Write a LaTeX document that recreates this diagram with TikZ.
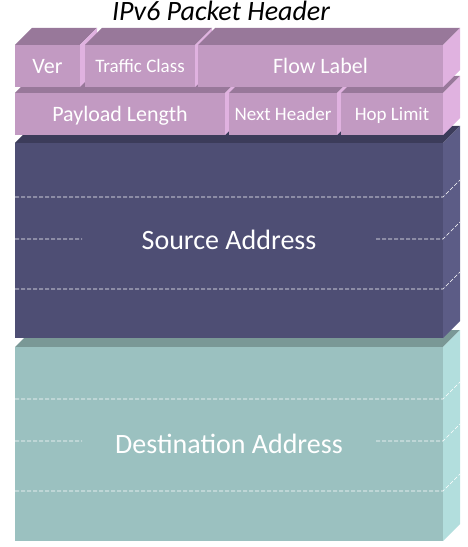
\documentclass[tikz,border=0pt]{standalone}
\usepackage{fontspec}
\setmainfont{Carlito}
\usepackage{tikz}

\definecolor{hdrfront}{HTML}{C29AC2}
\definecolor{hdrtop}{HTML}{98789A}
\definecolor{hdrside}{HTML}{E0B2E0}
\definecolor{srcfront}{HTML}{4E4E74}
\definecolor{srctop}{HTML}{3C3C5A}
\definecolor{srcside}{HTML}{5C5C86}
\definecolor{dstfront}{HTML}{9BC1C0}
\definecolor{dsttop}{HTML}{7A9896}
\definecolor{dstside}{HTML}{B2DEDD}

% 3d block: name, x1, y1, x2, y2, colour prefix, font size, text
\newcommand{\hdrbox}[8]{%
  \fill[#6top] (#2,#3) -- (#2+17,#3-17) -- (#4+17,#3-17) -- (#4,#3) -- cycle;
  \fill[#6side] (#4,#3) -- (#4+17,#3-17) -- (#4+17,#5-17) -- (#4,#5) -- cycle;
  \fill[#6front] (#2,#3) rectangle (#4,#5);
  \node[fieldtext, font=\fontsize{#7bp}{#7bp}\selectfont] (#1) at ({(#2+#4)/2},{(#3+#5)/2+0.322*#7}) {#8};
}

\begin{document}
\begin{tikzpicture}[
  x=1bp, y=-1bp,
  fieldtext/.style={text=white, inner sep=0pt, anchor=base},
  addrline/.style={white, line width=0.6bp, dash pattern=on 4bp off 2bp},
]
\useasboundingbox (0,0) rectangle (468,547);

% bottom to top, so upper blocks cover the ones below
\hdrbox{dst}{15}{347}{443}{541}{dst}{28}{Destination Address}
\foreach \yy in {399,491}
  \draw[addrline] (15,\yy) -- (443,\yy) -- ++(17,-17);
\draw[addrline] (15,441) -- (82,441) (376,441) -- (443,441) -- ++(17,-17);

\hdrbox{src}{15}{143}{443}{338}{src}{28}{Source Address}
\foreach \yy in {197,289}
  \draw[addrline] (15,\yy) -- (443,\yy) -- ++(17,-17);
\draw[addrline] (15,239) -- (82,239) (376,239) -- (443,239) -- ++(17,-17);

% second row
\hdrbox{plen}{15}{93}{225}{135}{hdr}{22}{Payload Length}
\hdrbox{nhdr}{229}{93}{337}{135}{hdr}{19}{Next Header}
\hdrbox{hlim}{341}{93}{443}{135}{hdr}{19}{Hop Limit}

% first row
\hdrbox{ver}{15}{45}{80}{87}{hdr}{22}{Ver}
\hdrbox{tcls}{85}{45}{195}{87}{hdr}{19}{Traffic Class}
\hdrbox{flow}{198}{45}{443}{87}{hdr}{22}{Flow Label}

\node[font=\fontsize{28bp}{28bp}\itshape, inner sep=0pt, anchor=base] (title) at (221,21) {IPv6 Packet Header};
\end{tikzpicture}
\end{document}
